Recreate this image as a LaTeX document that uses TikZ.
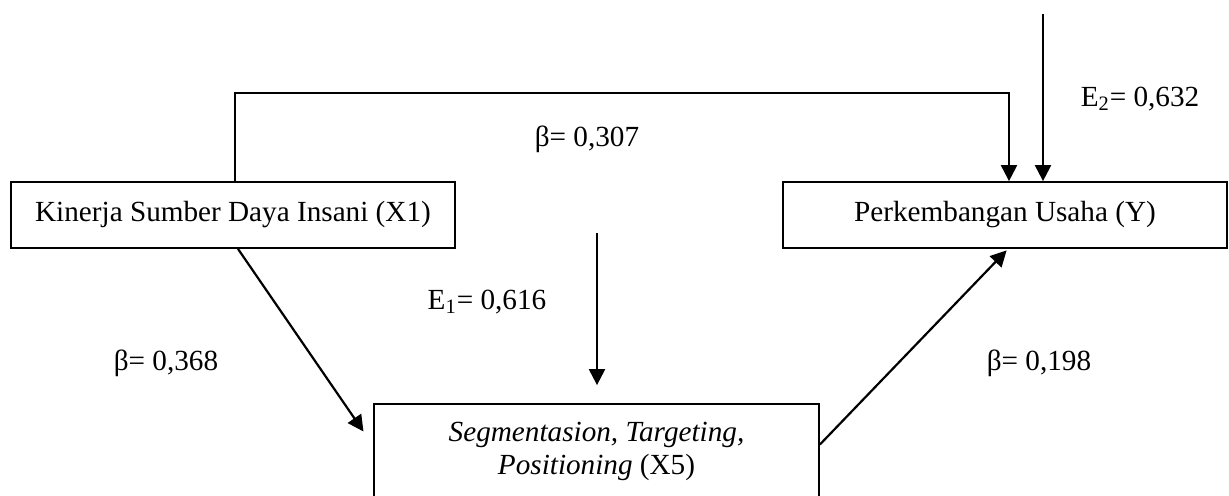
\documentclass[tikz,border=0pt]{standalone}
\usepackage{fontspec}
\setmainfont{Liberation Serif}
\usetikzlibrary{arrows.meta,calc}
\begin{document}
\begin{tikzpicture}[x=0.5pt,y=-0.5pt,
  box/.style={draw,line width=0.9pt,minimum width=222pt,minimum height=33pt,inner sep=0pt,
    font=\fontsize{14.6}{16.5}\selectfont,align=center},
  arr/.style={line width=1.1pt,-{Triangle[length=8pt,width=8pt]}},
  lbl/.style={anchor=base,inner sep=0pt,font=\fontsize{14.6}{16.5}\selectfont}]
\useasboundingbox (0,0) rectangle (1229,495);
% boxes
\node[box] (x1) at (233,215) {Kinerja Sumber Daya Insani (X1)};
\node[box] (y) at (1005,215) {Perkembangan Usaha (Y)};
\node[box,minimum width=222.5pt,minimum height=47.5pt] (x5) at (596.5,451.5)
  {\textit{Segmentasion, Targeting,}\\\textit{Positioning} (X5)};
% coordinates for free ends
\coordinate (c1) at (1009,93);
\coordinate (e2s) at (1043,14);
\coordinate (e1s) at (597,233);
% connectors
\draw[arr] ([xshift=1pt]x1.north) |- (c1) -- (c1 |- y.north);
\draw[arr] (e2s) -- (e2s |- y.north);
\draw[arr,shorten >=9pt] (e1s) -- (e1s |- x5.north);
\draw[arr,shorten >=8.5pt] ([xshift=2.5pt]x1.south) -- ([yshift=3pt]x5.west);
\draw[arr,shorten >=1pt] ([yshift=3.5pt]x5.east) -- ([xshift=1.5pt]y.south);
% labels
\node[lbl] (l1) at (587,146) {β= 0,307};
\node[lbl] (l2) at (1140,106) {E\textsubscript{2}= 0,632};
\node[lbl] (l3) at (487,309) {E\textsubscript{1}= 0,616};
\node[lbl] (l4) at (166,370) {β= 0,368};
\node[lbl] (l5) at (1039,370) {β= 0,198};
\end{tikzpicture}
\end{document}
